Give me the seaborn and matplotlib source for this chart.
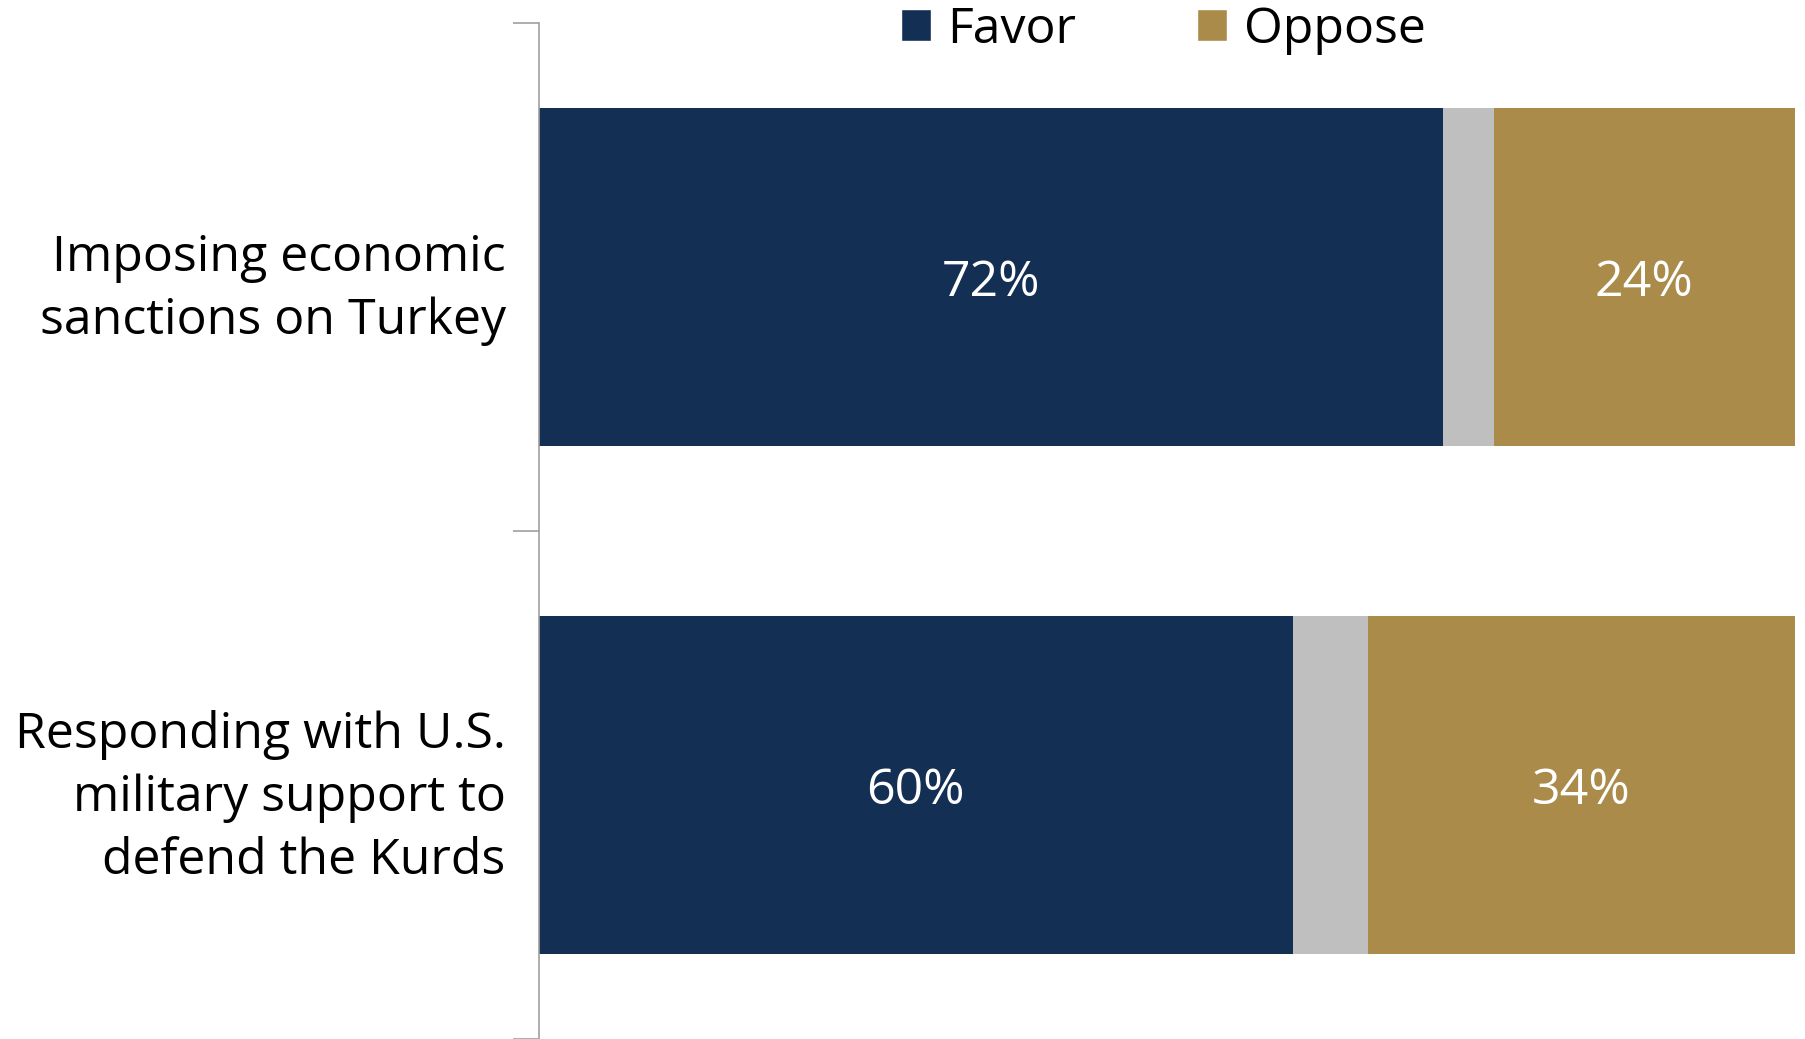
import matplotlib
matplotlib.use("Agg")
import matplotlib.pyplot as plt
import seaborn as sns
import pandas as pd
from matplotlib.patches import Patch

# survey data (percent)
questions = ["Imposing economic\nsanctions on Turkey",
             "Responding with U.S.\nmilitary support to\ndefend the Kurds"]
favor = [72, 60]
dont_know = [4, 6]
oppose = [24, 34]

navy = "#142F54"
gray = "#BFBFBF"
gold = "#AA8B4A"

sns.set_theme(style="white")
plt.rcParams["font.family"] = ["Open Sans", "DejaVu Sans"]
plt.rcParams["text.color"] = "black"
plt.rcParams["ytick.color"] = "black"

df = pd.DataFrame({"question": questions, "Favor": favor, "DK": dont_know, "Oppose": oppose})
df["favor_dk"] = df["Favor"] + df["DK"]
df["total"] = df["favor_dk"] + df["Oppose"]

fig = plt.figure(figsize=(18.06, 10.39), dpi=100)
ax = fig.add_axes([539 / 1806, 0.0, 1256 / 1806, 1 - 23 / 1039])

# stack by overlaying cumulative totals, widest first
for col, c in [("total", gold), ("favor_dk", gray), ("Favor", navy)]:
    sns.barplot(data=df, x=col, y="question", color=c, saturation=1, width=0.667,
                errorbar=None, linewidth=0, ax=ax)

fs = 36
for i, row in df.iterrows():
    ax.text(row["Favor"] / 2, i, f"{row['Favor']}%", color="white", fontsize=fs,
            ha="center", va="center_baseline")
    ax.text((row["favor_dk"] + row["total"]) / 2, i, f"{row['Oppose']}%", color="white",
            fontsize=fs, ha="center", va="center_baseline")

ax.set_xlim(0, 100)
ax.set_ylim(1.5, -0.5)
ax.set_xlabel("")
ax.set_ylabel("")
ax.set_xticks([])
ax.set_yticks([-0.5, 0.5, 1.5])
ax.set_yticklabels([])
ax.set_yticks([0, 1], minor=True)
ax.set_yticklabels(questions, minor=True, fontsize=fs, linespacing=1.37, color="black")
ax.tick_params(axis="y", which="major", left=True, length=19, width=1.2, color="#A0A0A0")
ax.tick_params(axis="y", which="minor", left=True, length=0, pad=24)
for s in ["top", "right", "bottom"]:
    ax.spines[s].set_visible(False)
ax.spines["left"].set_color("#A0A0A0")
ax.spines["left"].set_linewidth(1.2)

handles = [Patch(facecolor=navy, label="Favor"), Patch(facecolor=gold, label="Oppose")]
fig.legend(handles=handles, loc="center", bbox_to_anchor=(1163 / 1806, 1 - 30 / 1039),
           ncol=2, frameon=False, fontsize=fs, handlelength=0.6, handleheight=0.6,
           handletextpad=0.34, columnspacing=2.4, borderpad=0, labelcolor="black")

fig.savefig("out.png", dpi=100)
